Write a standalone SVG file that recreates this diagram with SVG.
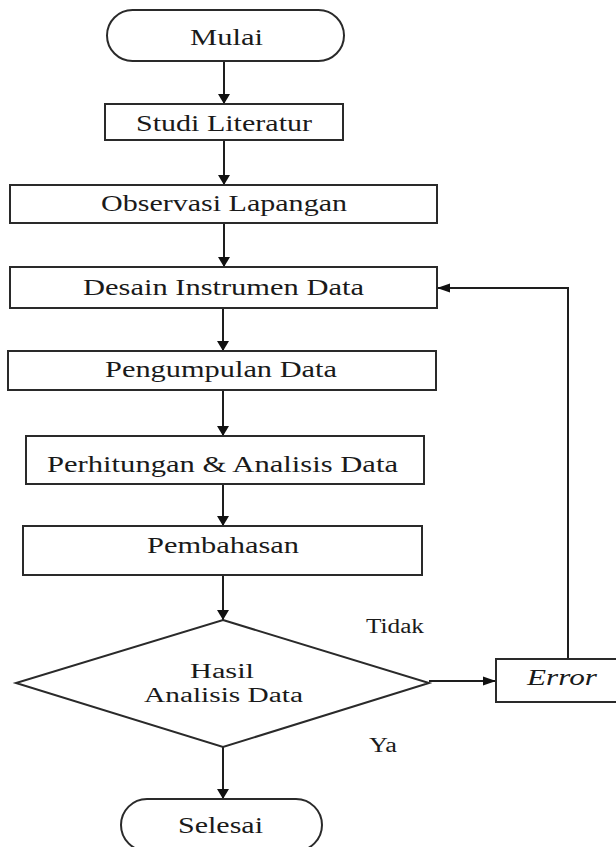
<svg xmlns="http://www.w3.org/2000/svg" width="616" height="847" viewBox="0 0 616 847">
<style>
.box{fill:#fff;stroke:#2a2a2a;stroke-width:2}
.lbl{font-family:"Liberation Serif","Times New Roman","DejaVu Serif",serif;font-size:23px;fill:#1a1a1a}
.dl{font-family:"Liberation Serif","Times New Roman","DejaVu Serif",serif;font-size:20px;fill:#1a1a1a}
.sm{font-family:"Liberation Serif","Times New Roman","DejaVu Serif",serif;font-size:20px;fill:#1a1a1a}
.ln{fill:none;stroke:#1e1e1e;stroke-width:2}
</style>
<defs>
<marker id="av" markerUnits="userSpaceOnUse" markerWidth="12" markerHeight="14" viewBox="0 -7 10 14" refX="10" refY="0" orient="auto">
<path d="M0,-6 L10,0 L0,6 Z" fill="#111"/>
</marker>
<marker id="ah" markerUnits="userSpaceOnUse" markerWidth="14" markerHeight="12" viewBox="0 -6 13 12" refX="13" refY="0" orient="auto">
<path d="M0,-4.5 L13,0 L0,4.5 Z" fill="#111"/>
</marker>
</defs>
<rect width="616" height="847" fill="#fff"/>
<g id="connectors">
<line class="ln" x1="224" y1="61" x2="224" y2="104" marker-end="url(#av)"/>
<line class="ln" x1="224" y1="140" x2="224" y2="185" marker-end="url(#av)"/>
<line class="ln" x1="224" y1="223" x2="224" y2="267" marker-end="url(#av)"/>
<line class="ln" x1="223" y1="308" x2="223" y2="351" marker-end="url(#av)"/>
<line class="ln" x1="223" y1="390" x2="223" y2="436" marker-end="url(#av)"/>
<line class="ln" x1="223" y1="484" x2="223" y2="526" marker-end="url(#av)"/>
<line class="ln" x1="223" y1="575" x2="223" y2="620" marker-end="url(#av)"/>
<line class="ln" x1="223" y1="747" x2="223" y2="799" marker-end="url(#av)"/>
<line class="ln" x1="429" y1="681" x2="496" y2="681" marker-end="url(#ah)"/>
<polyline class="ln" points="568,659 568,288 437,288" stroke="#3a3a3a" marker-end="url(#ah)"/>
</g>
<g id="mulai">
<rect class="box" x="107" y="10" width="237" height="51" rx="25.5" ry="25.5"/>
<text class="lbl" x="190" y="45" textLength="73" lengthAdjust="spacingAndGlyphs">Mulai</text>
</g>
<g id="studi-literatur">
<rect class="box" x="105" y="104" width="238" height="36"/>
<text class="lbl" x="136" y="131" textLength="176" lengthAdjust="spacingAndGlyphs">Studi Literatur</text>
</g>
<g id="observasi-lapangan">
<rect class="box" x="10" y="185" width="427" height="38"/>
<text class="lbl" x="101" y="211" textLength="246" lengthAdjust="spacingAndGlyphs">Observasi Lapangan</text>
</g>
<g id="desain-instrumen">
<rect class="box" x="10" y="267" width="427" height="41"/>
<text class="lbl" x="83" y="295" textLength="281" lengthAdjust="spacingAndGlyphs">Desain Instrumen Data</text>
</g>
<g id="pengumpulan-data">
<rect class="box" x="8" y="351" width="428" height="39"/>
<text class="lbl" x="105" y="377" textLength="232" lengthAdjust="spacingAndGlyphs">Pengumpulan Data</text>
</g>
<g id="perhitungan-analisis">
<rect class="box" x="26" y="436" width="398" height="48"/>
<text class="lbl" x="47" y="472" textLength="351" lengthAdjust="spacingAndGlyphs">Perhitungan &amp; Analisis Data</text>
</g>
<g id="pembahasan">
<rect class="box" x="23" y="526" width="399" height="49"/>
<text class="lbl" x="147" y="553" textLength="152" lengthAdjust="spacingAndGlyphs">Pembahasan</text>
</g>
<g id="hasil-analisis">
<polygon class="box" points="223,620 429,683 223,747 16,683"/>
<text class="dl" x="190" y="678" textLength="64" lengthAdjust="spacingAndGlyphs">Hasil</text>
<text class="dl" x="144" y="702" textLength="159" lengthAdjust="spacingAndGlyphs">Analisis Data</text>
</g>
<g id="label-tidak">
<text class="sm" x="366" y="633" textLength="58" lengthAdjust="spacingAndGlyphs">Tidak</text>
</g>
<g id="label-ya">
<text class="sm" x="369" y="752" textLength="28" lengthAdjust="spacingAndGlyphs">Ya</text>
</g>
<g id="error">
<rect class="box" x="496" y="659" width="130" height="43"/>
<text class="lbl" x="527" y="685" font-style="italic" textLength="70" lengthAdjust="spacingAndGlyphs">Error</text>
</g>
<g id="selesai">
<rect class="box" x="121" y="799" width="201" height="52" rx="26" ry="26"/>
<text class="lbl" x="178" y="833" textLength="85" lengthAdjust="spacingAndGlyphs">Selesai</text>
</g>
</svg>
